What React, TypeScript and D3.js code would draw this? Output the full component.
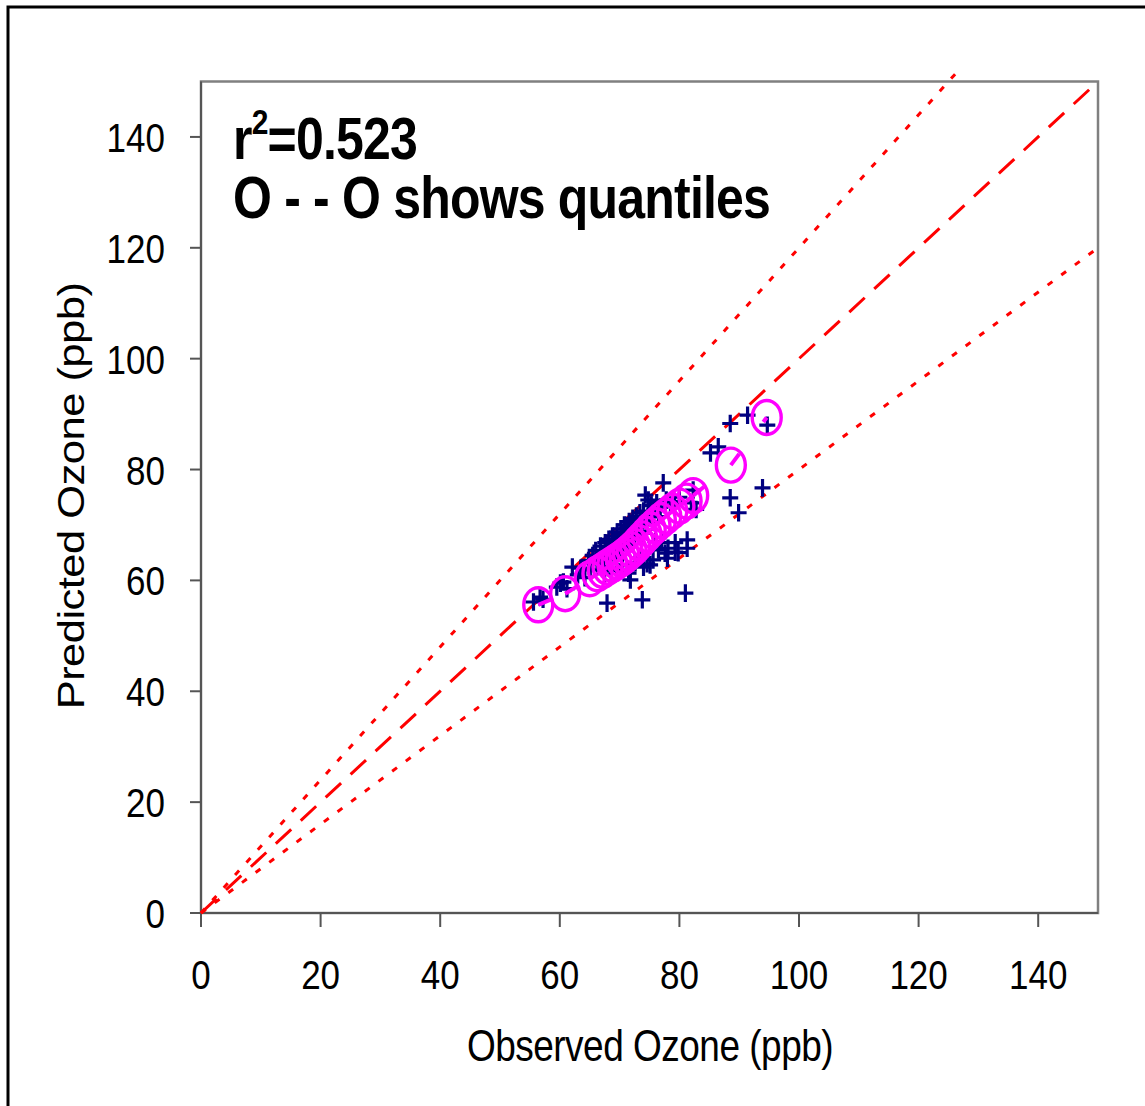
import React, { useEffect, useRef } from 'react'
import * as d3 from 'd3'

// quantiles (observed, predicted)
const quantObs = [56.4, 60.9, 65.0, 66.3, 67.2, 68.0, 68.8, 69.5, 70.2, 70.8, 71.4, 72.0, 72.6, 73.2, 73.8, 74.5, 75.2, 76.0, 76.9, 77.8, 78.8, 80.0, 81.2, 82.3, 88.6, 94.6]
const quantPred = [55.6, 57.6, 60.3, 61.2, 61.8, 62.4, 62.9, 63.4, 63.9, 64.4, 64.9, 65.5, 66.1, 66.8, 67.5, 68.3, 69.1, 69.9, 70.8, 71.6, 72.5, 73.4, 74.3, 75.3, 80.8, 89.4]

// individual points [observed, predicted]
const points: [number, number][] = [
  [55.6, 56.1], [56.7, 57.0], [57.2, 56.6], [60.1, 59.5], [60.6, 59.7], [59.5, 58.8], [61.2, 58.5], [62.1, 62.4],
  [63.0, 61.0], [63.5, 62.2], [64.2, 60.5], [65.1, 61.9], [64.8, 63.6],
  [65.5, 64.5], [66.0, 65.4], [66.3, 63.0], [66.8, 66.2], [67.0, 64.5], [67.3, 62.5], [67.6, 66.8], [68.0, 65.5],
  [68.2, 67.4], [68.5, 63.8], [68.8, 68.0], [69.0, 66.2], [69.3, 64.6], [69.6, 68.7], [70.0, 67.0], [70.2, 69.3],
  [70.5, 65.5], [70.8, 70.0], [71.0, 68.2], [71.3, 66.5], [71.6, 70.6], [72.0, 69.0], [72.2, 71.2], [72.5, 67.5],
  [72.8, 71.6], [73.0, 70.0], [73.4, 72.2], [73.7, 68.5], [74.0, 72.5], [74.3, 75.4], [74.8, 74.5], [75.0, 71.5],
  [75.3, 73.5], [75.8, 72.8], [76.2, 74.0], [76.8, 73.2], [77.3, 77.6], [77.8, 74.5], [78.5, 73.6], [79.2, 74.2],
  [80.0, 75.0], [82.3, 76.3], [82.0, 74.0], [82.8, 72.8],
  [66.5, 64.0], [67.8, 64.8], [68.4, 66.0], [69.2, 67.4], [69.8, 65.8], [70.4, 68.3], [71.2, 69.4], [71.8, 67.8],
  [72.4, 69.8], [73.2, 68.9], [73.8, 70.8], [74.5, 70.0], [75.5, 70.5], [76.5, 71.5],
  [67.5, 61.2], [68.6, 61.8], [69.5, 62.0], [70.5, 62.8], [71.5, 61.3], [71.8, 60.1], [72.6, 63.2], [73.5, 64.0],
  [74.0, 62.4], [74.6, 63.0], [75.1, 62.8], [75.6, 63.7], [76.5, 65.5], [77.6, 64.9], [78.0, 64.0], [78.1, 65.8],
  [79.3, 66.8], [79.3, 65.1], [79.8, 65.0], [81.3, 67.3], [81.3, 65.8], [77.0, 66.8], [76.0, 67.0],
  [67.9, 55.9], [73.8, 56.5], [81.0, 57.7], [85.2, 83.0], [86.5, 84.1], [88.5, 88.3], [91.4, 89.8], [94.7, 88.0],
  [93.9, 76.7], [88.5, 74.9], [89.9, 72.2]
]

const ticks = [0, 20, 40, 60, 80, 100, 120, 140]
// reference lines: slope and x end
const refSlopes = [1.2, 1.0, 0.8]
const refEnds = [127, 150, 150]
const refDash = ['6 11', '21 13', '6 11']

const W = 1145, H = 1106
const SY = 1.18
const font = "'Liberation Sans', Arial, sans-serif"

function App() {
  const ref = useRef<SVGSVGElement>(null)

  useEffect(() => {
    const svg = d3.select(ref.current)
    svg.selectAll('*').remove()

    const x = d3.scaleLinear().domain([0, 150]).range([201, 1098])
    const y = d3.scaleLinear().domain([0, 150]).range([913, 81.5])

    svg.append('rect').attr('width', W).attr('height', H).attr('fill', '#fff')
    svg.append('rect')
      .attr('x', 8).attr('y', 7).attr('width', 1300).attr('height', 1300)
      .attr('fill', 'none').attr('stroke', '#000').attr('stroke-width', 3)

    // plot frame
    svg.append('rect')
      .attr('x', x(0)).attr('y', y(150))
      .attr('width', x(150) - x(0)).attr('height', y(0) - y(150))
      .attr('fill', 'none').attr('stroke', '#808080').attr('stroke-width', 2.5)
    svg.append('line').attr('x1', x(0)).attr('x2', x(0)).attr('y1', y(150)).attr('y2', y(0))
      .attr('stroke', '#555').attr('stroke-width', 2)
    svg.append('line').attr('x1', x(0)).attr('x2', x(150)).attr('y1', y(0)).attr('y2', y(0))
      .attr('stroke', '#555').attr('stroke-width', 2)

    // ticks
    svg.selectAll('.yt').data(ticks).join('line')
      .attr('x1', x(0) - 11).attr('x2', x(0)).attr('y1', d => y(d)).attr('y2', d => y(d))
      .attr('stroke', '#555').attr('stroke-width', 2)
    svg.selectAll('.xt').data(ticks).join('line')
      .attr('x1', d => x(d)).attr('x2', d => x(d)).attr('y1', y(0)).attr('y2', y(0) + 14)
      .attr('stroke', '#555').attr('stroke-width', 2)

    svg.selectAll('.yl').data(ticks).join('text')
      .attr('transform', d => `translate(165,${y(d) + 15}) scale(1,${SY})`)
      .attr('text-anchor', 'end').attr('font-family', font).attr('font-size', 35)
      .text(d => d)
    svg.selectAll('.xl').data(ticks).join('text')
      .attr('transform', d => `translate(${x(d)},989) scale(1,${SY})`)
      .attr('text-anchor', 'middle').attr('font-family', font).attr('font-size', 35)
      .text(d => d)

    svg.append('text')
      .attr('transform', `translate(650,1061) scale(1,${SY})`)
      .attr('text-anchor', 'middle').attr('font-family', font).attr('font-size', 37)
      .attr('letter-spacing', -0.5)
      .text('Observed Ozone (ppb)')
    svg.append('text')
      .attr('transform', `translate(84,496) scale(1,${SY}) rotate(-90)`)
      .attr('text-anchor', 'middle').attr('font-family', font).attr('font-size', 37)
      .attr('letter-spacing', -0.5)
      .text('Predicted Ozone (ppb)')

    // reference lines
    refSlopes.forEach((s, i) => {
      svg.append('line')
        .attr('x1', x(0)).attr('y1', y(0))
        .attr('x2', x(refEnds[i])).attr('y2', y(refEnds[i] * s))
        .attr('stroke', '#ff0000').attr('stroke-width', 3)
        .attr('stroke-dasharray', refDash[i])
    })

    // points
    const cs = 8
    const g = svg.append('g').attr('stroke', '#000080').attr('stroke-width', 3.2)
    g.selectAll('path').data(points).join('path')
      .attr('d', d => {
        const px = x(d[0]), py = y(d[1])
        return `M${px - cs},${py}H${px + cs}M${px},${py - cs * 1.1}V${py + cs * 1.1}`
      })

    // quantile connector, dash restarts each segment
    const qs = d3.range(quantObs.length - 1)
    svg.selectAll('.qline').data(qs).join('line')
      .attr('x1', i => x(quantObs[i])).attr('y1', i => y(quantPred[i]))
      .attr('x2', i => x(quantObs[i + 1])).attr('y2', i => y(quantPred[i + 1]))
      .attr('stroke', '#ff00ff').attr('stroke-width', 4).attr('stroke-dasharray', '14 40')

    svg.selectAll('.qc').data(quantObs).join('ellipse')
      .attr('cx', d => x(d)).attr('cy', (d, i) => y(quantPred[i]))
      .attr('rx', 14.5).attr('ry', 17)
      .attr('fill', 'none').attr('stroke', '#ff00ff').attr('stroke-width', 3.4)

    // annotation
    const t1 = svg.append('text')
      .attr('transform', `translate(233,159) scale(1,${SY})`)
      .attr('font-family', font).attr('font-size', 50).attr('font-weight', 'bold')
      .attr('letter-spacing', -0.8)
    t1.append('tspan').text('r')
    t1.append('tspan').attr('font-size', 30).attr('dy', -21).text('2')
    t1.append('tspan').attr('dy', 21).text('=0.523')

    svg.append('text')
      .attr('transform', `translate(233,218) scale(1,${SY})`)
      .attr('font-family', font).attr('font-size', 50).attr('font-weight', 'bold')
      .attr('letter-spacing', -0.8)
      .attr('xml:space', 'preserve')
      .text('O - - O shows quantiles')
  }, [])

  return <svg ref={ref} width={W} height={H} style={{ display: 'block', position: 'absolute', left: 0, top: 0 }} />
}

export default App
